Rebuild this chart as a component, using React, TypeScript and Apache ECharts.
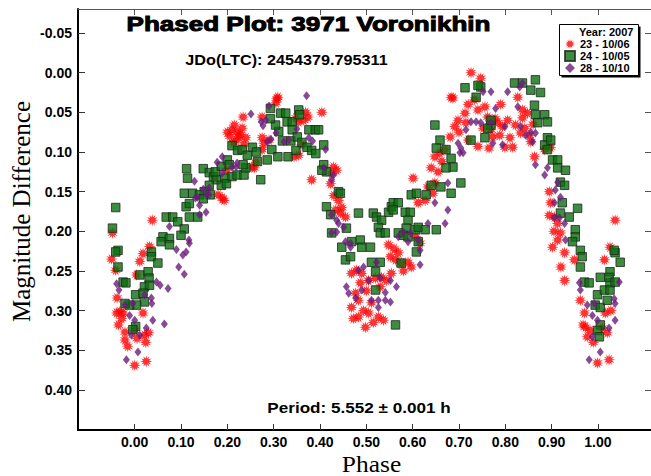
import React, { useEffect, useRef } from 'react';
import * as echarts from 'echarts';

// ---- axis ticks ----
const phaseTicks = [0, 0.1, 0.2, 0.3, 0.4, 0.5, 0.6, 0.7, 0.8, 0.9, 1.0];
const magTicks = [-0.05, 0, 0.05, 0.1, 0.15, 0.2, 0.25, 0.3, 0.35, 0.4];
const phaseRange = [-0.1224, 1.1145];
const magRange = [-0.0803, 0.4505];

// ---- series names ----
const seriesNames = ['23 - 10/06', '24 - 10/05', '28 - 10/10'];

// ---- observations [phase, magnitude difference] ----
const obs23 = [
  [0.038, 0.186], [-0.048, 0.202], [-0.050, 0.235], [-0.041, 0.249], [0.011, 0.238], [0.018, 0.228], [0.032, 0.219],
  [0.004, 0.255], [-0.038, 0.284], [-0.032, 0.301], [-0.039, 0.303], [-0.025, 0.303], [0.018, 0.303], [-0.021, 0.327],
  [-0.021, 0.337], [0.000, 0.325], [0.021, 0.331], [0.025, 0.364], [0.000, 0.369],
  [-0.028, 0.310], [-0.035, 0.318], [-0.015, 0.345], [0.005, 0.335], [0.030, 0.328], [0.024, 0.340],
  [0.189, 0.158], [0.180, 0.154], [0.193, 0.161], [0.198, 0.123], [0.258, 0.120], [0.253, 0.119], [0.200, 0.075],
  [0.210, 0.072], [0.221, 0.075], [0.232, 0.070], [0.225, 0.081], [0.240, 0.082], [0.219, 0.085], [0.275, 0.082],
  [0.279, 0.089], [0.290, 0.085], [0.234, 0.056], [0.275, 0.056], [0.307, 0.033], [0.305, 0.038], [0.309, 0.031],
  [0.348, 0.057], [0.354, 0.062], [0.369, 0.050], [0.374, 0.056], [0.361, 0.091], [0.354, 0.104], [0.344, 0.106],
  [0.382, 0.135], [0.275, 0.097],
  [0.205, 0.080], [0.215, 0.066], [0.228, 0.078], [0.236, 0.090], [0.213, 0.088], [0.262, 0.113], [0.365, 0.060],
  [0.423, 0.140], [0.430, 0.155], [0.447, 0.170],
  [0.404, 0.050], [0.429, 0.119], [0.425, 0.127], [0.436, 0.123], [0.440, 0.161], [0.434, 0.173], [0.444, 0.177],
  [0.455, 0.182], [0.468, 0.253], [0.479, 0.249], [0.490, 0.253], [0.505, 0.262], [0.520, 0.259], [0.533, 0.258],
  [0.543, 0.262], [0.554, 0.253], [0.477, 0.278], [0.468, 0.296], [0.483, 0.308], [0.505, 0.303], [0.498, 0.321],
  [0.526, 0.308], [0.537, 0.312], [0.483, 0.287], [0.511, 0.290],
  [0.487, 0.265], [0.500, 0.275], [0.494, 0.300], [0.472, 0.310], [0.515, 0.315], [0.530, 0.270],
  [0.548, 0.217], [0.552, 0.232], [0.563, 0.236], [0.575, 0.240], [0.590, 0.239], [0.569, 0.227], [0.616, 0.215],
  [0.606, 0.207], [0.601, 0.133], [0.612, 0.164], [0.627, 0.161], [0.633, 0.144], [0.648, 0.139], [0.644, 0.152],
  [0.580, 0.250], [0.597, 0.245], [0.560, 0.222],
  [0.648, 0.106], [0.659, 0.101], [0.670, 0.097], [0.681, 0.081], [0.691, 0.068], [0.698, 0.060], [0.713, 0.051],
  [0.687, 0.032], [0.683, 0.031], [0.726, 0.000], [0.747, 0.007], [0.715, 0.063],
  [0.655, 0.125], [0.640, 0.120], [0.663, 0.112],
  [0.734, 0.034], [0.741, 0.047], [0.756, 0.043], [0.762, 0.056], [0.784, 0.063], [0.794, 0.068], [0.769, 0.072],
  [0.773, 0.081], [0.788, 0.079], [0.799, 0.094], [0.816, 0.094], [0.810, 0.082], [0.833, 0.076], [0.852, 0.079],
  [0.837, 0.057], [0.827, 0.031], [0.837, 0.047], [0.848, 0.051], [0.855, 0.087], [0.863, 0.106], [0.885, 0.097],
  [0.898, 0.094],
  [0.700, 0.075], [0.720, 0.040], [0.752, 0.070], [0.765, 0.095], [0.778, 0.058], [0.790, 0.040], [0.805, 0.060],
  [0.720, 0.085], [0.741, 0.093], [0.822, 0.066], [0.842, 0.070], [0.860, 0.065],
  [0.898, 0.164], [0.906, 0.182], [0.913, 0.190], [0.919, 0.202], [0.902, 0.220], [0.928, 0.227], [0.949, 0.236],
  [0.913, 0.211], [0.928, 0.262],
  [0.895, 0.180], [0.905, 0.200], [0.920, 0.245], [0.895, 0.150],
  [0.962, 0.287], [0.971, 0.303], [0.973, 0.321], [0.977, 0.333], [0.983, 0.325], [1.020, 0.328], [0.999, 0.366],
  [1.024, 0.362], [1.016, 0.303], [1.037, 0.186], [1.026, 0.220], [1.014, 0.236],
  [0.968, 0.318], [0.990, 0.340], [1.010, 0.322], [1.028, 0.300],
];

const obs24 = [
  [-0.041, 0.170], [-0.048, 0.196], [-0.036, 0.224], [-0.041, 0.226], [-0.036, 0.245], [-0.025, 0.264], [-0.019, 0.265],
  [0.002, 0.280], [0.011, 0.255], [0.029, 0.251], [0.031, 0.259], [0.021, 0.270], [0.032, 0.268], [0.018, 0.278],
  [0.021, 0.289], [0.004, 0.293], [-0.011, 0.293], [-0.021, 0.291], [0.002, 0.320], [-0.004, 0.324], [0.036, 0.226],
  [0.036, 0.232], [0.050, 0.240], [0.068, 0.182], [0.082, 0.182], [0.093, 0.188], [0.107, 0.197], [0.100, 0.205],
  [0.061, 0.207], [0.057, 0.213], [0.075, 0.209], [0.075, 0.217], [0.111, 0.169], [0.125, 0.152], [0.118, 0.165],
  [0.118, 0.182], [0.136, 0.182], [0.107, 0.152], [0.112, 0.121], [0.114, 0.133],
  [0.148, 0.121], [0.161, 0.126], [0.170, 0.131], [0.176, 0.135], [0.161, 0.142], [0.150, 0.150], [0.140, 0.154],
  [0.163, 0.154], [0.148, 0.159],
  [0.174, 0.125], [0.187, 0.118], [0.200, 0.110], [0.204, 0.116], [0.195, 0.133], [0.187, 0.142], [0.198, 0.140],
  [0.210, 0.131], [0.221, 0.129], [0.236, 0.129], [0.240, 0.120], [0.234, 0.116],
  [0.210, 0.092], [0.222, 0.098], [0.232, 0.097], [0.243, 0.104], [0.254, 0.094], [0.263, 0.100], [0.265, 0.112],
  [0.272, 0.135], [0.286, 0.110], [0.296, 0.097], [0.309, 0.106], [0.331, 0.106], [0.348, 0.098], [0.337, 0.086],
  [0.319, 0.086], [0.311, 0.074], [0.304, 0.066], [0.293, 0.058], [0.293, 0.045], [0.315, 0.051], [0.326, 0.051],
  [0.329, 0.062], [0.340, 0.062], [0.354, 0.047], [0.356, 0.053], [0.340, 0.072], [0.351, 0.081], [0.361, 0.088],
  [0.372, 0.094], [0.382, 0.098], [0.391, 0.102], [0.376, 0.072], [0.390, 0.072],
  [0.397, 0.072], [0.408, 0.091], [0.408, 0.116], [0.414, 0.125], [0.404, 0.123], [0.414, 0.169], [0.425, 0.202],
  [0.423, 0.179], [0.440, 0.150], [0.444, 0.152],
  [0.457, 0.196], [0.447, 0.220], [0.455, 0.236], [0.466, 0.232], [0.483, 0.177], [0.468, 0.213], [0.487, 0.211],
  [0.490, 0.220], [0.509, 0.220], [0.515, 0.177], [0.522, 0.182], [0.533, 0.186], [0.526, 0.195], [0.530, 0.202],
  [0.541, 0.202], [0.548, 0.176], [0.554, 0.169], [0.558, 0.164], [0.569, 0.164], [0.584, 0.176], [0.595, 0.176],
  [0.590, 0.186], [0.586, 0.196], [0.569, 0.202], [0.580, 0.205], [0.590, 0.207], [0.606, 0.198], [0.612, 0.195],
  [0.627, 0.198], [0.612, 0.213], [0.608, 0.226], [0.575, 0.240], [0.558, 0.173],
  [0.511, 0.239], [0.520, 0.251], [0.530, 0.239], [0.520, 0.274], [0.563, 0.318], [0.597, 0.154], [0.608, 0.152],
  [0.629, 0.154], [0.640, 0.142], [0.661, 0.144], [0.683, 0.152], [0.704, 0.139], [0.651, 0.198],
  [0.648, 0.066], [0.659, 0.085], [0.651, 0.095], [0.672, 0.097], [0.683, 0.108], [0.687, 0.119], [0.672, 0.120],
  [0.713, 0.019], [0.737, 0.031], [0.747, 0.018], [0.741, 0.016], [0.769, 0.066], [0.756, 0.082], [0.726, 0.085],
  [0.762, 0.070], [0.769, 0.060],
  [0.820, 0.013], [0.837, 0.013], [0.855, 0.022], [0.865, 0.009], [0.876, 0.025], [0.863, 0.041], [0.865, 0.053],
  [0.885, 0.053], [0.870, 0.063], [0.891, 0.062], [0.891, 0.082], [0.885, 0.091], [0.898, 0.085], [0.891, 0.097],
  [0.902, 0.110], [0.913, 0.110], [0.913, 0.120], [0.930, 0.123], [0.919, 0.138], [0.928, 0.142], [0.923, 0.164],
  [0.956, 0.171], [0.938, 0.182], [0.919, 0.177], [0.951, 0.198], [0.951, 0.207], [0.945, 0.213], [0.962, 0.224],
  [0.966, 0.232], [0.962, 0.245], [0.971, 0.264], [0.981, 0.265],
  [0.999, 0.280], [0.994, 0.293], [1.005, 0.296], [1.020, 0.287], [1.014, 0.274], [1.026, 0.265], [1.026, 0.251],
  [1.037, 0.227], [1.035, 0.224], [1.048, 0.239], [1.024, 0.258], [1.005, 0.258], [1.026, 0.274], [1.037, 0.264],
  [1.005, 0.318], [0.999, 0.325], [1.003, 0.333],
];

const obs28 = [
  [-0.039, 0.266], [-0.034, 0.274], [-0.021, 0.293], [-0.004, 0.291], [0.021, 0.280], [0.036, 0.284], [0.037, 0.291],
  [-0.011, 0.306], [0.000, 0.312], [0.039, 0.312], [0.064, 0.317], [0.025, 0.322], [-0.007, 0.331], [0.011, 0.331],
  [0.007, 0.352], [-0.018, 0.362], [0.047, 0.264], [0.055, 0.268], [0.072, 0.272], [0.075, 0.194], [0.090, 0.223],
  [0.095, 0.245], [0.107, 0.254], [0.104, 0.230], [0.111, 0.226], [0.117, 0.211], [0.118, 0.215], [0.140, 0.179],
  [0.154, 0.176],
  [0.129, 0.137], [0.148, 0.147], [0.161, 0.145], [0.155, 0.154], [0.140, 0.167], [0.135, 0.157], [0.131, 0.158],
  [0.161, 0.154], [0.178, 0.113], [0.189, 0.106], [0.189, 0.126], [0.210, 0.119], [0.219, 0.119], [0.221, 0.114],
  [0.251, 0.052], [0.290, 0.042], [0.273, 0.062], [0.283, 0.060], [0.277, 0.067], [0.305, 0.076], [0.294, 0.084],
  [0.286, 0.087], [0.322, 0.087], [0.333, 0.085], [0.350, 0.071], [0.371, 0.029], [0.376, 0.082], [0.384, 0.086],
  [0.412, 0.097], [0.408, 0.120], [0.429, 0.129], [0.425, 0.135], [0.425, 0.179], [0.436, 0.186], [0.440, 0.190],
  [0.451, 0.195], [0.425, 0.202], [0.436, 0.201], [0.466, 0.215], [0.455, 0.213], [0.466, 0.220],
  [0.457, 0.270], [0.462, 0.278], [0.477, 0.284], [0.490, 0.274], [0.483, 0.249], [0.494, 0.245], [0.522, 0.239],
  [0.505, 0.262], [0.530, 0.259], [0.552, 0.262], [0.541, 0.277], [0.565, 0.270], [0.511, 0.287], [0.526, 0.287],
  [0.526, 0.296], [0.541, 0.287], [0.552, 0.289],
  [0.569, 0.207], [0.580, 0.201], [0.590, 0.213], [0.595, 0.202], [0.612, 0.211], [0.633, 0.190], [0.670, 0.190],
  [0.676, 0.173], [0.676, 0.139], [0.648, 0.164], [0.616, 0.224], [0.616, 0.242],
  [0.698, 0.089], [0.702, 0.101], [0.709, 0.101], [0.704, 0.095], [0.715, 0.072], [0.726, 0.062], [0.737, 0.062],
  [0.747, 0.063], [0.769, 0.063], [0.752, 0.024], [0.769, 0.024], [0.805, 0.024], [0.779, 0.045], [0.799, 0.068],
  [0.794, 0.091], [0.773, 0.089],
  [0.827, 0.043], [0.833, 0.068], [0.844, 0.079], [0.855, 0.075], [0.865, 0.076], [0.859, 0.087], [0.865, 0.116],
  [0.885, 0.129], [0.891, 0.120], [0.913, 0.138], [0.908, 0.148], [0.919, 0.157], [0.906, 0.164], [0.906, 0.183],
  [0.917, 0.183], [0.928, 0.190], [0.930, 0.211],
  [0.960, 0.265], [0.962, 0.274], [0.977, 0.293], [0.992, 0.291], [0.988, 0.306], [0.999, 0.312], [0.988, 0.333],
  [0.981, 0.362], [1.005, 0.352], [1.024, 0.322], [1.037, 0.312], [1.037, 0.291], [1.035, 0.285], [1.046, 0.264],
  [0.831, 0.018], [0.837, 0.013],
];

const STAR =
  'path://M10 0 L11.29 5.17 L15 1.34 L13.54 6.46 L18.66 5 L14.83 8.71 L20 10 L14.83 11.29 L18.66 15 L13.54 13.54 L15 18.66 L11.29 14.83 L10 20 L8.71 14.83 L5 18.66 L6.46 13.54 L1.34 15 L5.17 11.29 L0 10 L5.17 8.71 L1.34 5 L6.46 6.46 L5 1.34 L8.71 5.17 Z';

const SANS = '"Liberation Sans", Arial, sans-serif';
const SERIF = '"Liberation Serif", "Times New Roman", serif';

export default function App() {
  const ref = useRef<HTMLDivElement>(null);

  useEffect(() => {
    const chart = echarts.init(ref.current as HTMLDivElement, null, { renderer: 'svg' });
    const labelFont = { fontFamily: SANS, fontWeight: 'bold' as const, fontSize: 14, color: '#000' };
    const fmt = (v: number) => v.toFixed(2);

    chart.setOption({
      animation: false,
      backgroundColor: '#ffffff',
      grid: { left: 78, top: 9, width: 576, height: 421, containLabel: false },
      xAxis: [
        {
          type: 'value', position: 'bottom', min: phaseRange[0], max: phaseRange[1],
          axisLine: { show: true, onZero: false, lineStyle: { color: '#000', width: 2 } },
          axisTick: { show: true, inside: true, length: 6, customValues: phaseTicks, lineStyle: { color: '#333' } },
          axisLabel: { show: true, customValues: phaseTicks, formatter: fmt, margin: 5, ...labelFont },
          splitLine: { show: false },
        },
        {
          type: 'value', position: 'top', min: phaseRange[0], max: phaseRange[1],
          axisLine: { show: true, onZero: false, lineStyle: { color: '#555', width: 1 } },
          axisTick: { show: true, inside: true, length: 6, customValues: phaseTicks, lineStyle: { color: '#555' } },
          axisLabel: { show: false },
          splitLine: { show: false },
        },
      ],
      yAxis: [
        {
          type: 'value', position: 'left', inverse: true, min: magRange[0], max: magRange[1],
          axisLine: { show: true, onZero: false, lineStyle: { color: '#000', width: 2 } },
          axisTick: { show: true, inside: true, length: 7, customValues: magTicks, lineStyle: { color: '#333' } },
          axisLabel: { show: true, customValues: magTicks, formatter: fmt, margin: 6, ...labelFont },
          splitLine: { show: false },
        },
        {
          type: 'value', position: 'right', inverse: true, min: magRange[0], max: magRange[1],
          axisLine: { show: true, onZero: false, lineStyle: { color: '#555', width: 1 } },
          axisTick: { show: true, inside: true, length: 6, customValues: magTicks, lineStyle: { color: '#555' } },
          axisLabel: { show: false },
          splitLine: { show: false },
        },
      ],
      legend: {
        orient: 'vertical', left: 564, top: 38, padding: 0, itemGap: 0,
        itemWidth: 10, itemHeight: 10, itemTextGap: 5, selectedMode: false, z: 10,
        textStyle: { fontFamily: SANS, fontWeight: 'bold', fontSize: 11, color: '#000', lineHeight: 12 },
        data: seriesNames,
      },
      graphic: [
        { type: 'rect', z: 5, shape: { x: 561.5, y: 26.5, width: 79, height: 51 }, style: { fill: '#000' } },
        { type: 'rect', z: 6, shape: { x: 559.5, y: 24.5, width: 79, height: 51 }, style: { fill: '#fff', stroke: '#000', lineWidth: 1 } },
        {
          type: 'text', z: 11, x: 579, y: 32,
          style: { text: 'Year: 2007', fontFamily: SANS, fontWeight: 'bold', fontSize: 11, fill: '#000', align: 'left', verticalAlign: 'middle' },
        },
        {
          type: 'text', z: 11, x: 308.5, y: 24, scaleX: 1.24,
          style: {
            text: 'Phased Plot: 3971 Voronikhin', fontFamily: SANS, fontWeight: 'bold', fontSize: 21,
            fill: '#000', stroke: '#000', lineWidth: 1, align: 'center', verticalAlign: 'middle',
          },
        },
        {
          type: 'text', z: 11, x: 286.5, y: 60, scaleX: 1.08,
          style: { text: 'JDo(LTC): 2454379.795311', fontFamily: SANS, fontWeight: 'bold', fontSize: 15, fill: '#000', align: 'center', verticalAlign: 'middle' },
        },
        {
          type: 'text', z: 11, x: 359, y: 407, scaleX: 1.14,
          style: { text: 'Period: 5.552 ± 0.001 h', fontFamily: SANS, fontWeight: 'bold', fontSize: 15, fill: '#000', align: 'center', verticalAlign: 'middle' },
        },
        {
          type: 'text', z: 11, x: 21, y: 211.5, rotation: Math.PI / 2,
          style: { text: 'Magnitude Difference', fontFamily: SERIF, fontSize: 25, fill: '#000', align: 'center', verticalAlign: 'middle' },
        },
        {
          type: 'text', z: 11, x: 371.5, y: 463.5, scaleX: 1.06,
          style: { text: 'Phase', fontFamily: SERIF, fontSize: 24, fill: '#000', align: 'center', verticalAlign: 'middle' },
        },
      ],
      series: [
        {
          type: 'scatter', name: seriesNames[0], data: obs23, xAxisIndex: 0, yAxisIndex: 0,
          symbol: STAR, symbolSize: 12, itemStyle: { color: '#ff0000' }, emphasis: { disabled: true }, z: 2,
        },
        {
          type: 'scatter', name: seriesNames[1], data: obs24, xAxisIndex: 0, yAxisIndex: 0,
          symbol: 'rect', symbolSize: 8.5,
          itemStyle: { color: '#0e6e12', borderColor: '#1c2a1c', borderWidth: 1 }, emphasis: { disabled: true }, z: 3,
        },
        {
          type: 'scatter', name: seriesNames[2], data: obs28, xAxisIndex: 0, yAxisIndex: 0,
          symbol: 'diamond', symbolSize: [7, 9], itemStyle: { color: '#6a1b7a' }, emphasis: { disabled: true }, z: 4,
        },
      ],
    });

    return () => chart.dispose();
  }, []);

  return <div ref={ref} style={{ position: 'absolute', left: 0, top: 0, width: 651, height: 476 }} />;
}
